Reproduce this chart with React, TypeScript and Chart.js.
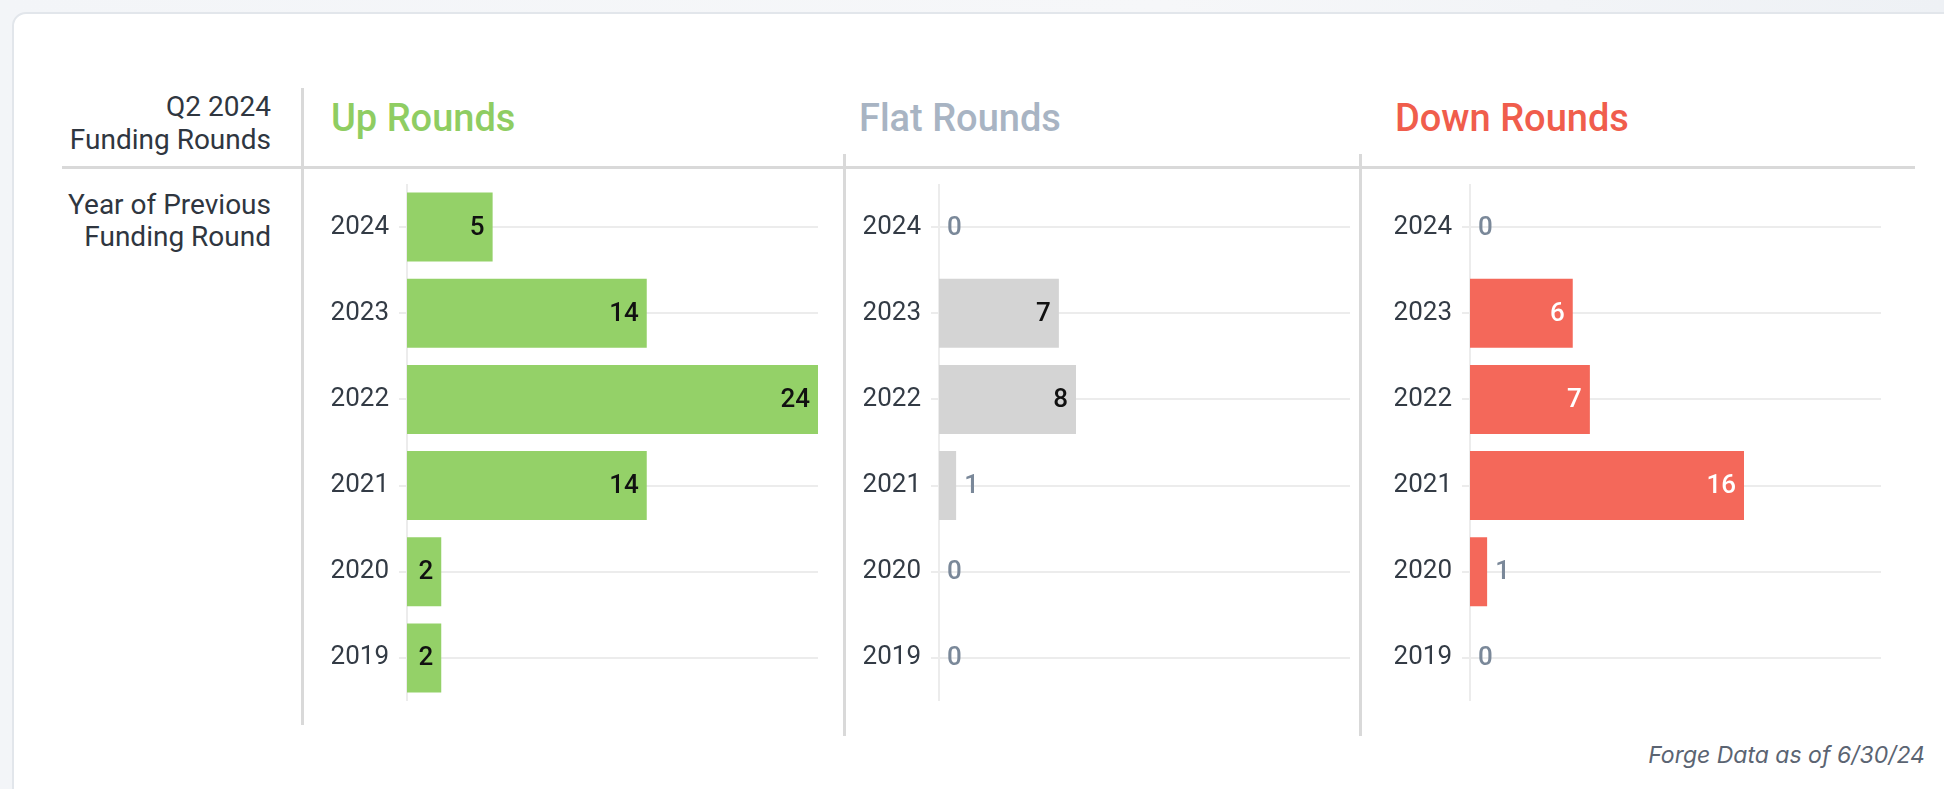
import React, { useEffect, useRef } from "react";
import { Chart, registerables } from "chart.js";

Chart.register(...registerables);

const years = ["2024", "2023", "2022", "2021", "2020", "2019"];
const upRounds = [5, 14, 24, 14, 2, 2];
const flatRounds = [0, 7, 8, 1, 0, 0];
const downRounds = [0, 6, 7, 16, 1, 0];
const axisMax = 24;

const panelTitles = ["Up Rounds", "Flat Rounds", "Down Rounds"];
const titleColors = ["#8fcd62", "#a8b4c3", "#f05d4c"];
const barColors = ["#94d168", "#d4d4d4", "#f4685a"];
const insideLabelColors = ["#111111", "#111111", "#ffffff"];
const outsideLabelColor = "#7a8899";

const FONT = "Roboto, 'Noto Sans', sans-serif";

function makeLabelPlugin(inside: string, outside: string) {
  return {
    id: "valueLabels",
    afterDatasetsDraw(chart: any) {
      const ctx = chart.ctx;
      const meta = chart.getDatasetMeta(0);
      const ds = chart.data.datasets[0];
      ctx.save();
      ctx.font = `500 26px ${FONT}`;
      ctx.textBaseline = "middle";
      meta.data.forEach((bar: any, i: number) => {
        const text = String(ds.data[i]);
        const w = ctx.measureText(text).width;
        const barW = bar.x - bar.base;
        if (barW >= w + 16) {
          ctx.textAlign = "right";
          ctx.fillStyle = inside;
          ctx.fillText(text, bar.x - 8, bar.y + 1);
        } else {
          ctx.textAlign = "left";
          ctx.fillStyle = outside;
          ctx.fillText(text, bar.x + 8, bar.y + 1);
        }
      });
      ctx.restore();
    },
  };
}

function Panel(props: { values: number[]; idx: number; left: number }) {
  const ref = useRef<HTMLCanvasElement | null>(null);
  useEffect(() => {
    if (!ref.current) return;
    const chart = new Chart(ref.current, {
      type: "bar",
      data: {
        labels: years,
        datasets: [
          {
            data: props.values,
            backgroundColor: barColors[props.idx],
            borderWidth: 0,
            categoryPercentage: 0.8,
            barPercentage: 1,
          },
        ],
      },
      options: {
        indexAxis: "y",
        animation: false,
        responsive: false,
        maintainAspectRatio: false,
        layout: { autoPadding: false, padding: { left: 0, right: 2, top: 0, bottom: 0 } },
        plugins: { legend: { display: false }, tooltip: { enabled: false } },
        scales: {
          x: { min: 0, max: axisMax, display: false },
          y: {
            grid: { color: "#ececec", lineWidth: 2, tickLength: 8, offset: false },
            border: { color: "#ececec", width: 2 },
            ticks: { color: "#333b45", font: { family: FONT, size: 26 }, padding: 10 },
            afterFit: (s: any) => {
              s.width = 77;
              s.paddingTop = 0;
              s.paddingBottom = 0;
            },
          },
        },
      } as any,
      plugins: [makeLabelPlugin(insideLabelColors[props.idx], outsideLabelColor)],
    });
    if ((document as any).fonts) {
      (document as any).fonts.ready.then(() => {
        try { chart.update(); } catch (e) {}
      });
    }
    return () => chart.destroy();
  }, []);
  return (
    <canvas
      ref={ref}
      width={490}
      height={517}
      style={{ position: "absolute", left: props.left, top: 184, width: 490, height: 517 }}
    />
  );
}

const line = (l: number, t: number, w: number, h: number) => (
  <div style={{ position: "absolute", left: l, top: t, width: w, height: h, background: "#d9d9d9" }} />
);

export default function App() {
  useEffect(() => {
    document.body.style.margin = "0";
  }, []);
  const panelLefts = [330, 862, 1393];
  const titleLefts = [331, 859, 1395];
  const values = [upRounds, flatRounds, downRounds];
  return (
    <div
      style={{
        position: "absolute",
        left: 0,
        top: 0,
        width: 1944,
        height: 789,
        overflow: "hidden",
        background: "linear-gradient(90deg, #f3f5f8 0%, #f6f7f9 60%, #eef1f5 100%)",
        fontFamily: FONT,
      }}
    >
      <div
        style={{
          position: "absolute",
          left: 12,
          top: 12,
          width: 1960,
          height: 820,
          background: "#ffffff",
          border: "2px solid #e2e6eb",
          borderRadius: 14,
          boxSizing: "border-box",
        }}
      />
      <div
        style={{
          position: "absolute",
          left: 0,
          top: 90,
          width: 271,
          textAlign: "right",
          fontSize: 28,
          lineHeight: "33px",
          color: "#2f3640",
        }}
      >
        Q2 2024
        <br />
        Funding Rounds
      </div>
      <div
        style={{
          position: "absolute",
          left: 0,
          top: 189,
          width: 271,
          textAlign: "right",
          fontSize: 28,
          lineHeight: "32px",
          color: "#2f3640",
        }}
      >
        Year of Previous
        <br />
        Funding Round
      </div>
      {panelTitles.map((t, i) => (
        <div
          key={t}
          style={{
            position: "absolute",
            left: titleLefts[i],
            top: 95,
            fontSize: 38,
            fontWeight: 500,
            lineHeight: "46px",
            color: titleColors[i],
            whiteSpace: "nowrap",
          }}
        >
          {t}
        </div>
      ))}
      {line(62, 166, 1853, 3)}
      {line(301, 88, 3, 637)}
      {line(843, 154, 3, 582)}
      {line(1359, 154, 3, 582)}
      {values.map((v, i) => (
        <Panel key={i} values={v} idx={i} left={panelLefts[i]} />
      ))}
      <div
        style={{
          position: "absolute",
          right: 19,
          top: 740,
          fontFamily: "Inter, 'Noto Sans', sans-serif",
          fontStyle: "italic",
          fontSize: 23,
          lineHeight: "30px",
          color: "#5b6472",
          whiteSpace: "nowrap",
        }}
      >
        Forge Data as of 6/30/24
      </div>
    </div>
  );
}
